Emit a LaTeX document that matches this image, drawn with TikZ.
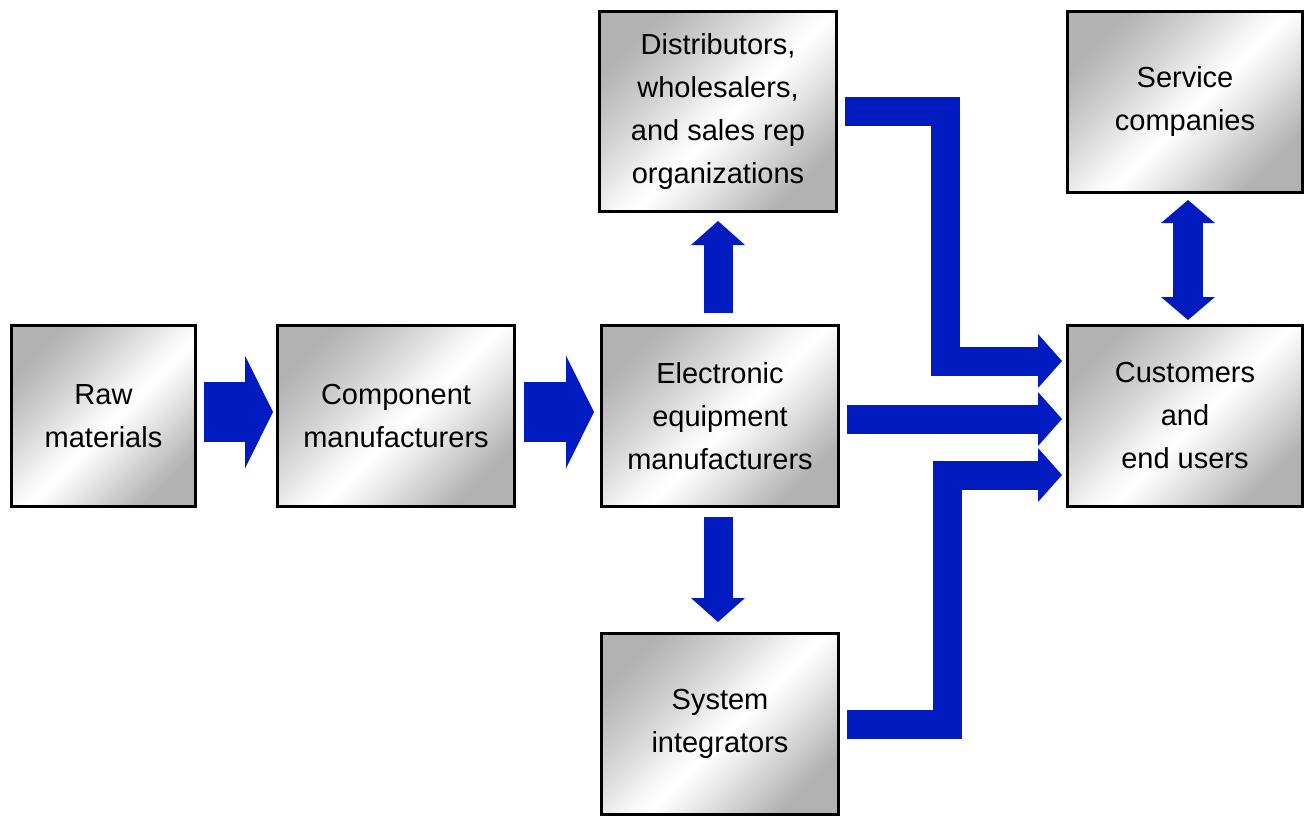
\documentclass[tikz,border=0pt]{standalone}
\usepackage{fontspec}
\setmainfont{Liberation Sans}
\usetikzlibrary{arrows.meta}
\definecolor{flowblue}{RGB}{0,28,192}
% brushed-metal fill for the boxes (variation runs between 25bp and 75bp)
\pgfdeclarehorizontalshading{metal}{100bp}{%
  color(0bp)=(black!30); color(25bp)=(black!30); color(38bp)=(black!17);
  color(49bp)=(black!3); color(53bp)=(white); color(60bp)=(black!9);
  color(75bp)=(black!30); color(100bp)=(black!30)}
\begin{document}
\begin{tikzpicture}[x=1pt,y=-1pt,
  box/.style={draw=black, line width=3pt, shade, shading=metal, shading angle=-45,
    align=center, inner sep=0pt, font=\fontsize{29}{43}\selectfont},
  bigflow/.style={draw=flowblue, line width=60pt, line join=miter,
    -{Triangle[length=28pt,width=113pt,line width=0pt]}},
  flow/.style={draw=flowblue, line width=29pt, line join=miter,
    -{Triangle[length=24pt,width=54pt,line width=0pt]}},
  twoflow/.style={draw=flowblue, line width=30pt,
    {Triangle[length=23pt,width=54pt,line width=0pt]}-{Triangle[length=23pt,width=54pt,line width=0pt]}}
]
\useasboundingbox (0,0) rectangle (1304,816);

% boxes
\node[box, minimum width=184pt, minimum height=181pt] (raw)  at (103.5,416) {Raw\\materials};
\node[box, minimum width=237pt, minimum height=181pt] (comp) at (396,416) {Component\\manufacturers};
\node[box, minimum width=237pt, minimum height=181pt] (elec) at (720,416) {Electronic\\equipment\\manufacturers};
\node[box, minimum width=237pt, minimum height=200pt] (dist) at (718,111.5) {Distributors,\\wholesalers,\\and sales rep\\organizations};
\node[box, minimum width=235pt, minimum height=181pt] (serv) at (1185,102) {Service\\companies};
\node[box, minimum width=235pt, minimum height=181pt] (cust) at (1185,416) {Customers\\and\\end users};
\node[box, minimum width=237pt, minimum height=181pt] (sys)  at (720,724) {System\\integrators};

% main supply chain
\draw[bigflow] ([xshift=7pt,yshift=4pt]raw.east) -- ([xshift=-3pt,yshift=4pt]comp.west);
\draw[bigflow] ([xshift=8pt,yshift=4pt]comp.east) -- ([xshift=-6pt,yshift=4pt]elec.west);

% branches from the equipment manufacturers
\draw[flow] ([xshift=-2pt,yshift=11pt]elec.north) -- ([yshift=-8pt]dist.south);
\draw[flow] ([xshift=-2pt,yshift=-9pt]elec.south) -- ([xshift=-2pt,yshift=10pt]sys.north);

% service link
\draw[twoflow] ([xshift=3pt,yshift=-6pt]serv.south) -- ([xshift=3pt,yshift=4pt]cust.north);

% routes to the customers
\draw[flow] ([xshift=7pt]dist.east) -- ++(100,0) |- ([xshift=-4pt,yshift=55pt]cust.west);
\draw[flow] ([xshift=7pt,yshift=-3pt]elec.east) -- ([xshift=-4pt,yshift=-3pt]cust.west);
\draw[flow] ([xshift=7pt]sys.east) -- ++(100,0) |- ([xshift=-4pt,yshift=-59pt]cust.west);
\end{tikzpicture}
\end{document}
